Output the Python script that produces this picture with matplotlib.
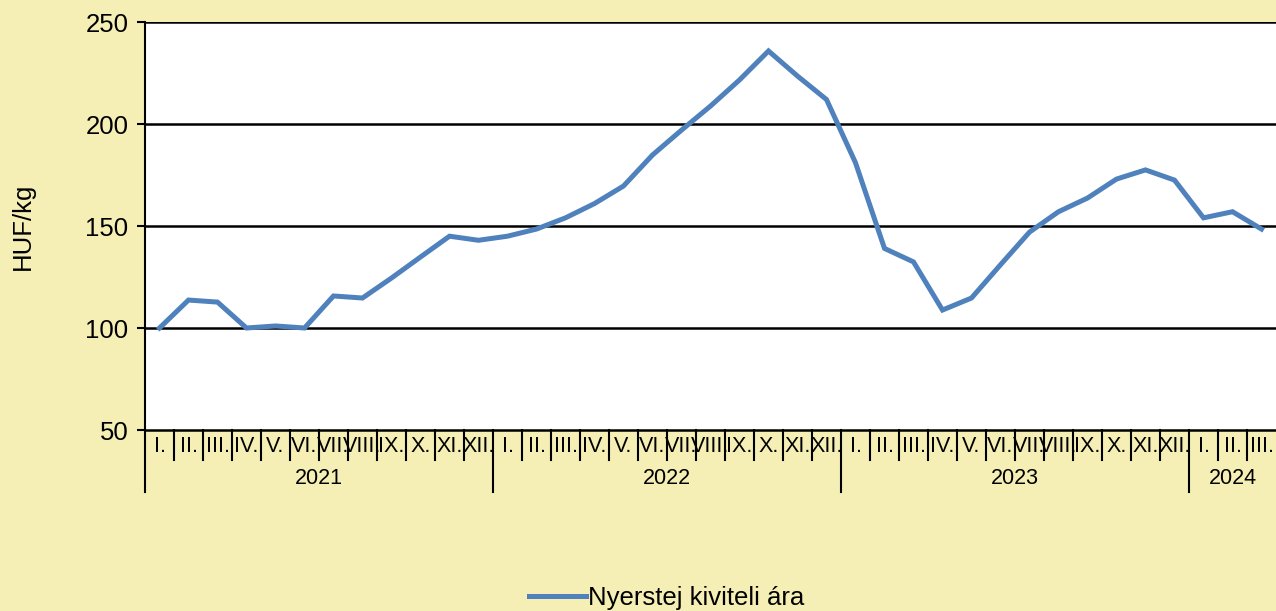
import matplotlib.pyplot as plt
import matplotlib.transforms as mtransforms

plt.rcParams['font.family'] = ['Liberation Sans', 'DejaVu Sans']

months = ["I.", "II.", "III.", "IV.", "V.", "VI.", "VII.", "VIII.", "IX.", "X.", "XI.", "XII."]
years = ["2021", "2022", "2023", "2024"]
months_per_year = [12, 12, 12, 3]

prices = [100, 113.7, 112.7, 100, 101, 100, 115.7, 114.7, 124.5, 134.8, 145, 143,
          145, 148.5, 154, 161, 169.6, 184.8, 197, 208.8, 221.6, 235.8, 223.5, 212,
          181, 139, 132.4, 108.8, 114.7, 131, 147, 157, 163.7, 173, 177.5, 172.5,
          154, 157, 148.5]

bg = "#F5EFB5"
blue = "#4F81BD"

fig = plt.figure(figsize=(12.76, 6.11), dpi=100, facecolor=bg)
ax = fig.add_axes([145 / 1276, 1 - 430 / 611, 1 - 145 / 1276, (430 - 22) / 611])
ax.set_facecolor("white")

x = list(range(len(prices)))
line, = ax.plot(x, prices, color=blue, lw=3.6, solid_joinstyle="miter",
                label="Nyerstej kiviteli ára", zorder=3)

ax.set_xlim(-0.5, len(prices) - 0.5)
ax.set_ylim(50, 250)
ax.set_yticks([50, 100, 150, 200, 250])
ax.tick_params(axis="y", labelsize=18.5, length=6, width=1.5, direction="out", pad=6)
ax.set_xticks([])
for v in [100, 150, 200, 250]:
    ax.axhline(v, color="black", lw=1.8, zorder=2)

for s in ["top", "right"]:
    ax.spines[s].set_visible(False)
ax.spines["left"].set_linewidth(1.5)
ax.spines["bottom"].set_linewidth(1.8)

ax.set_ylabel("HUF/kg", fontsize=18.5, labelpad=36)

# category axis with month and year groups
trans = mtransforms.blended_transform_factory(ax.transData, ax.transAxes)
h = 408.0
i = 0
for y, n in zip(years, months_per_year):
    ax.plot([i - 0.5, i - 0.5], [0, -62 / h], color="black", lw=1.5,
            transform=trans, clip_on=False)
    for m in range(n):
        k = i + m
        if m > 0:
            ax.plot([k - 0.5, k - 0.5], [0, -30 / h], color="black", lw=1.5,
                    transform=trans, clip_on=False)
        ax.text(k, -17 / h, months[m], transform=trans, ha="center", va="center",
                fontsize=15.5)
    ax.text(i + n / 2 - 0.5, -49 / h, y, transform=trans, ha="center", va="center",
            fontsize=15.5)
    i += n

fig.legend(handles=[line], loc="center", bbox_to_anchor=(667 / 1276, 1 - 598 / 611),
           frameon=False, fontsize=18.5, handlelength=2.2, handletextpad=0.1)

fig.savefig("out.png", dpi=100, facecolor=bg)
